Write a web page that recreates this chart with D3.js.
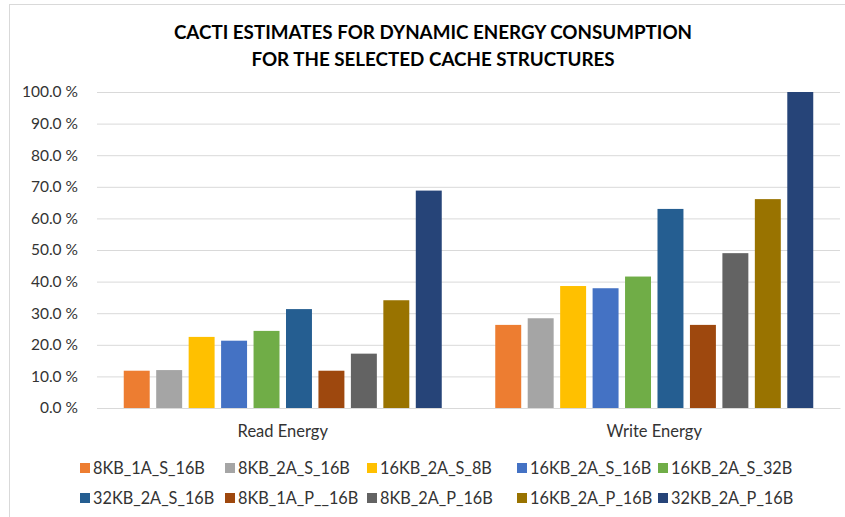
<!DOCTYPE html>
<html>
<head>
<meta charset="utf-8">
<script src="https://cdn.jsdelivr.net/npm/d3@7"></script>
<style>
  body { margin: 0; background: #fff; }
  svg { display: block; }
</style>
</head>
<body>
<div id="chart"></div>
<script>
// categories on the x axis
let categories = ["Read Energy", "Write Energy"];

// cache configurations (one bar each per category)
let series = [
  "8KB_1A_S_16B", "8KB_2A_S_16B", "16KB_2A_S_8B", "16KB_2A_S_16B", "16KB_2A_S_32B",
  "32KB_2A_S_16B", "8KB_1A_P__16B", "8KB_2A_P_16B", "16KB_2A_P_16B", "32KB_2A_P_16B"
];

// percentages, same order as series
let readValues = [11.8, 12.0, 22.5, 21.3, 24.4, 31.3, 11.8, 17.2, 34.1, 68.8];
let writeValues = [26.3, 28.4, 38.6, 37.9, 41.6, 63.0, 26.3, 49.0, 66.1, 100.0];

let yTicks = [0, 10, 20, 30, 40, 50, 60, 70, 80, 90, 100];

let colors = ["#ED7D31", "#A5A5A5", "#FFC000", "#4472C4", "#70AD47",
              "#255E91", "#9E480E", "#636363", "#997300", "#264478"];

let svgWidth = 845;
let svgHeight = 517;
let font = "Lato, 'Open Sans', sans-serif";
let textColor = "#333";

let plot = { left: 97, right: 840, top: 92, bottom: 408 };

let svg = d3.select("#chart")
  .append("svg")
  .attr("width", svgWidth)
  .attr("height", svgHeight);

// chart area border (only left/top visible in frame)
svg.append("rect")
  .attr("x", 9.5).attr("y", 4.5)
  .attr("width", 860).attr("height", 540)
  .attr("fill", "#fff")
  .attr("stroke", "#d9d9d9");

// title
let title = svg.append("text")
  .attr("text-anchor", "middle")
  .attr("font-family", font)
  .attr("font-weight", "bold")
  .attr("font-size", 18.8)
  .attr("fill", "#000");
title.append("tspan").attr("x", 433).attr("y", 39)
  .text("CACTI ESTIMATES FOR DYNAMIC ENERGY CONSUMPTION");
title.append("tspan").attr("x", 433).attr("y", 66)
  .text("FOR THE SELECTED CACHE STRUCTURES");

let y = d3.scaleLinear().domain([0, 100]).range([plot.bottom, plot.top]);

let x0 = d3.scaleBand().domain(categories).range([plot.left, plot.right]);

let groupWidth = 318;
let x1 = d3.scaleBand().domain(series).range([0, groupWidth]).paddingInner(0.2);

// gridlines + tick labels
let yAxis = d3.axisLeft(y)
  .tickValues(yTicks)
  .tickSize(-(plot.right - plot.left))
  .tickPadding(19)
  .tickFormat(d => d.toFixed(1) + " %");

let gy = svg.append("g")
  .attr("transform", `translate(${plot.left},0)`)
  .call(yAxis);
gy.select(".domain").remove();
gy.selectAll(".tick line").attr("stroke", "#d9d9d9").attr("stroke-width", 1);
gy.selectAll(".tick text")
  .attr("font-family", font)
  .attr("font-size", 15.5)
  .attr("fill", textColor);

let table = categories.map((c, i) => ({
  category: c,
  values: series.map((s, j) => ({ key: s, value: (i === 0 ? readValues : writeValues)[j], idx: j }))
}));

let groups = svg.selectAll(".group")
  .data(table)
  .enter()
  .append("g")
  .attr("transform", d => `translate(${x0(d.category) + (x0.bandwidth() - groupWidth) / 2},0)`);

groups.selectAll("rect")
  .data(d => d.values)
  .enter()
  .append("rect")
  .attr("x", d => x1(d.key))
  .attr("width", x1.bandwidth())
  .attr("y", d => y(d.value))
  .attr("height", d => y(0) - y(d.value))
  .attr("fill", d => colors[d.idx]);

// x axis line
let xAxis = d3.axisBottom(x0).tickSize(0).tickPadding(17);
let gx = svg.append("g")
  .attr("transform", `translate(0,${plot.bottom})`)
  .call(xAxis);
gx.select(".domain").attr("stroke", "#d9d9d9");
gx.selectAll(".tick text")
  .attr("font-family", font)
  .attr("font-size", 16.5)
  .attr("fill", textColor);

// legend: two rows of five
let legendCols = [80, 225, 367, 517, 658];
let legendRows = [468, 498];
let legend = svg.selectAll(".legend")
  .data(series)
  .enter()
  .append("g")
  .attr("transform", (d, i) => `translate(${legendCols[i % 5]},${legendRows[Math.floor(i / 5)]})`);

legend.append("rect")
  .attr("x", 0).attr("y", -5)
  .attr("width", 10).attr("height", 10)
  .attr("fill", (d, i) => colors[i]);

legend.append("text")
  .attr("x", 13)
  .attr("y", 6)
  .attr("font-family", font)
  .attr("font-size", 16.3)
  .attr("fill", textColor)
  .text(d => d);
</script>
</body>
</html>
